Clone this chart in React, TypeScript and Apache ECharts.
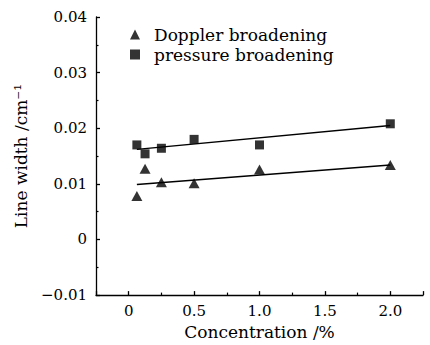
import React, { useEffect, useRef } from "react";
import * as echarts from "echarts";

const concentration = [0.0625, 0.125, 0.25, 0.5, 1.0, 2.0];
const dopplerWidth = [0.0078, 0.0127, 0.0103, 0.0101, 0.0126, 0.0134];
const pressureWidth = [0.0170, 0.0154, 0.0164, 0.0180, 0.0170, 0.0208];
const dopplerFitX = [0.0625, 2.0];
const dopplerFitY = [0.0099, 0.0134];
const pressureFitX = [0.0625, 2.0];
const pressureFitY = [0.0162, 0.0205];
const seriesNames = ["Doppler broadening", "pressure broadening"];
const xAxisTitle = "Concentration /%";
const yAxisTitle = "Line width /cm\u207B\u00B9";

const FONT = "DejaVu Serif";

export default function App() {
  const ref = useRef<HTMLDivElement>(null);
  useEffect(() => {
    if (!ref.current) return;
    const chart = echarts.init(ref.current, null, { renderer: "svg" });
    const pair = (xs: number[], ys: number[]) => xs.map((x, i) => [x, ys[i]]);
    chart.setOption({
      animation: false,
      backgroundColor: "#ffffff",
      grid: { left: 96, right: 7, top: 17, bottom: 49, containLabel: false },
      legend: {
        orient: "vertical",
        left: 125,
        top: 21,
        itemWidth: 10,
        itemHeight: 10,
        itemGap: 3,
        textStyle: { fontFamily: FONT, fontSize: 17, color: "#000", padding: [0, 0, 0, 9] },
        data: [
          { name: seriesNames[0], icon: "triangle" },
          { name: seriesNames[1], icon: "rect" },
        ],
      },
      xAxis: {
        type: "value",
        min: -0.25,
        max: 2.25,
        splitNumber: 5,
        name: xAxisTitle,
        nameLocation: "middle",
        nameGap: 26,
        nameTextStyle: { fontFamily: FONT, fontSize: 17, color: "#000" },
        axisLine: { show: true, onZero: false, lineStyle: { color: "#000", width: 1.3 } },
        axisTick: { show: true, inside: true, length: 4, lineStyle: { color: "#000", width: 1.3 } },
        minorTick: { show: true, splitNumber: 2, length: 2.5, lineStyle: { color: "#000", width: 1.2 } },
        splitLine: { show: false },
        axisLabel: {
          showMinLabel: false,
          showMaxLabel: false,
          margin: 8,
          fontFamily: FONT,
          fontSize: 15,
          color: "#000",
          formatter: (v: number) => (v === 0 ? "0" : v.toFixed(1)),
        },
      },
      yAxis: {
        type: "value",
        min: -0.01,
        max: 0.04,
        interval: 0.01,
        name: yAxisTitle,
        nameLocation: "middle",
        nameGap: 67,
        nameRotate: 90,
        nameTextStyle: { fontFamily: FONT, fontSize: 17, color: "#000" },
        axisLine: { show: true, onZero: false, lineStyle: { color: "#000", width: 1.3 } },
        axisTick: { show: true, inside: true, length: 4, lineStyle: { color: "#000", width: 1.3 } },
        minorTick: { show: true, splitNumber: 2, length: 2.5, lineStyle: { color: "#000", width: 1.2 } },
        splitLine: { show: false },
        axisLabel: {
          margin: 9,
          fontFamily: FONT,
          fontSize: 15,
          color: "#000",
          formatter: (v: number) => {
            if (Math.abs(v) < 1e-9) return "0";
            return (v < 0 ? "\u2212" : "") + Math.abs(v).toFixed(2);
          },
        },
      },
      series: [
        {
          name: seriesNames[0],
          type: "scatter",
          symbol: "triangle",
          symbolSize: [11, 10],
          itemStyle: { color: "#000" },
          data: pair(concentration, dopplerWidth),
          z: 3,
        },
        {
          name: seriesNames[1],
          type: "scatter",
          symbol: "rect",
          symbolSize: 9,
          itemStyle: { color: "#000" },
          data: pair(concentration, pressureWidth),
          z: 3,
        },
        {
          name: "doppler fit",
          type: "line",
          symbol: "none",
          lineStyle: { color: "#000", width: 1.5 },
          data: pair(dopplerFitX, dopplerFitY),
          z: 2,
        },
        {
          name: "pressure fit",
          type: "line",
          symbol: "none",
          lineStyle: { color: "#000", width: 1.5 },
          data: pair(pressureFitX, pressureFitY),
          z: 2,
        },
      ],
    });
    return () => chart.dispose();
  }, []);
  return (
    <div
      ref={ref}
      style={{ position: "fixed", left: 0, top: 0, width: 430, height: 345 }}
    />
  );
}
